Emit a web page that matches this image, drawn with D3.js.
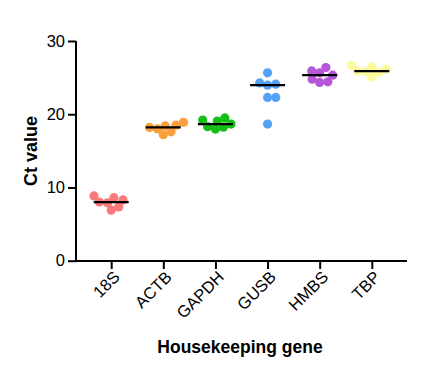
<!DOCTYPE html>
<html><head><meta charset="utf-8">
<script src="https://cdn.jsdelivr.net/npm/d3@7"></script>
<style>body{margin:0;background:#fff}svg{display:block}text{font-family:Arial,"Liberation Sans",sans-serif}</style>
</head><body>
<svg id="c" width="433" height="369"></svg>
<script>
const genes = ["18S","ACTB","GAPDH","GUSB","HMBS","TBP"];
const colors = ["#FA7A7A","#F9A03C","#18BE18","#55A1F6","#B657D9","#FDFA9C"];
const ct18S  = [8.3, 8.85, 8.6, 6.9, 7.35, 7.9, 8.0];
const ctACTB = [18.9, 17.6, 18.4, 18.0, 18.5, 18.2, 17.2];
const ctGAPDH= [18.24, 19.2, 19.5, 18.3, 19.06, 17.97, 18.65];
const ctGUSB = [25.65, 24.28, 23.97, 24.1, 22.29, 22.29, 18.65];
const ctHMBS = [25.65, 24.34, 25.33, 26.38, 24.42, 25.92, 24.79];
const ctTBP  = [26.7, 26.15, 26.47, 25.1, 25.9, 25.8, 25.7];
const yTicks = [0,10,20,30];
const seriesValues = [ct18S, ctACTB, ctGAPDH, ctGUSB, ctHMBS, ctTBP];

const svg = d3.select("#c");
const x = d3.scalePoint().domain(genes).range([76,407]).padding(0.675);
const y = d3.scaleLinear().domain([0,30]).range([260.7,41]);
const R = 4.6;

// axes
const ya = svg.append("g").attr("transform","translate(76,0)")
  .call(d3.axisLeft(y).tickValues(yTicks).tickSize(8).tickPadding(3));
const xa = svg.append("g").attr("transform","translate(0,261)")
  .call(d3.axisBottom(x).tickSize(8).tickSizeOuter(0));
[ya,xa].forEach(a=>{
  a.attr("font-size",null).attr("font-family",null);
  a.select(".domain").attr("stroke","#000").attr("stroke-width",2);
  a.selectAll(".tick line").attr("stroke","#000").attr("stroke-width",2);
  a.selectAll("text").attr("fill","#000").style("font-size","16.5px");
});
ya.select(".domain").attr("d","M0,41V261.7");
xa.select(".domain").attr("d","M75,0H407");
xa.selectAll(".tick text").attr("text-anchor","end")
  .attr("transform","translate(5,13) rotate(-45)").attr("dy","0.35em").attr("y",0).attr("x",0);

// beeswarm (partial overlap allowed, like the original)
function swarm(vals){
  const idx = vals.map((v,i)=>i).sort((a,b)=>vals[a]-vals[b]);
  const placed=[];
  const out = new Array(vals.length);
  const D = 8.2;
  idx.forEach(i=>{
    const py = y(vals[i]);
    let cands=[0];
    placed.forEach(p=>{const dy=py-p.y; if(Math.abs(dy)<D){const dx=Math.sqrt(D*D-dy*dy); cands.push(p.x+dx,p.x-dx);}});
    cands.sort((a,b)=>Math.abs(a)-Math.abs(b));
    let cx = cands.find(c=>placed.every(p=>Math.hypot(c-p.x,py-p.y)>=D-1e-6));
    placed.push({x:cx,y:py});
    out[i]={dx:cx,y:py};
  });
  return out;
}

genes.forEach((g,gi)=>{
  const vals = seriesValues[gi];
  const pos = swarm(vals);
  svg.append("g").selectAll("circle").data(pos).join("circle")
    .attr("cx",d=>x(g)+d.dx).attr("cy",d=>d.y).attr("r",R)
    .attr("fill",colors[gi]);
  const med = d3.median(vals);
  svg.append("line").attr("x1",x(g)-17.5).attr("x2",x(g)+17.5)
    .attr("y1",y(med)).attr("y2",y(med)).attr("stroke","#000").attr("stroke-width",2.2);
});

svg.append("text").attr("transform","translate(37,151) rotate(-90)")
  .attr("text-anchor","middle").style("font-weight","bold").style("font-size","18px").text("Ct value");
svg.append("text").attr("x",240).attr("y",353)
  .attr("text-anchor","middle").style("font-weight","bold").style("font-size","17.5px").text("Housekeeping gene");
</script>
</body></html>
